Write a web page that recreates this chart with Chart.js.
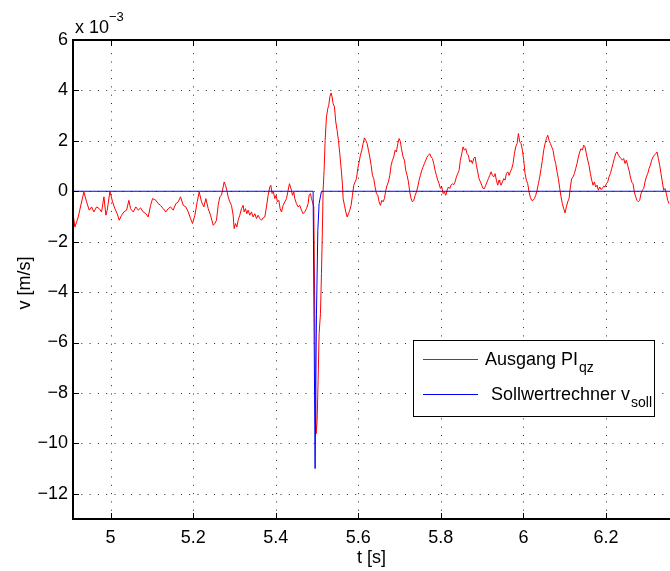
<!DOCTYPE html>
<html>
<head>
<meta charset="utf-8">
<script src="https://cdn.jsdelivr.net/npm/chart.js@4/dist/chart.umd.min.js"></script>
<style>
  html, body { margin: 0; padding: 0; background: #fff; overflow: hidden; }
  canvas { display: block; }
</style>
</head>
<body>
<canvas id="c" width="670" height="571"></canvas>
<script>
// Axis ticks (velocity in units of 1e-3 m/s)
const xTicks = [5, 5.2, 5.4, 5.6, 5.8, 6, 6.2];
const yTicks = [-12, -10, -8, -6, -4, -2, 0, 2, 4, 6];
const xRange = [4.909, 6.355];
const yRange = [-13, 6];

const seriesNames = ['Ausgang PI', 'Sollwertrechner v'];
const seriesSubs = ['qz', 'soll'];

// Controller output PI_qz
const redTime = [
  4.9096, 4.9136, 4.9217, 4.9298, 4.9354, 4.9419, 4.9483, 4.9540, 4.9596, 4.9661,
  4.9726, 4.9782, 4.9839, 4.9887, 4.9919, 4.9984, 5.0048, 5.0105, 5.0161, 5.0210,
  5.0266, 5.0323, 5.0387, 5.0444, 5.0484, 5.0549, 5.0613, 5.0670, 5.0726, 5.0791,
  5.0856, 5.0912, 5.0969, 5.1017, 5.1098, 5.1154, 5.1211, 5.1275, 5.1340, 5.1396,
  5.1453, 5.1517, 5.1582, 5.1638, 5.1695, 5.1760, 5.1824, 5.1881, 5.1937, 5.1985,
  5.2042, 5.2098, 5.2147, 5.2203, 5.2260, 5.2308, 5.2365, 5.2421, 5.2486,
  5.2525, 5.2565, 5.2606, 5.2646, 5.2686, 5.2727, 5.2751, 5.2783, 5.2816, 5.2848,
  5.2888, 5.2929, 5.2969, 5.2993, 5.3025, 5.3058, 5.3090, 5.3130, 5.3171, 5.3211,
  5.3235, 5.3268, 5.3300, 5.3332, 5.3372, 5.3413, 5.3453, 5.3494, 5.3534, 5.3574,
  5.3615, 5.3655, 5.3695, 5.3736, 5.3776, 5.3816, 5.3857, 5.3881, 5.3913, 5.3945,
  5.3978, 5.4010, 5.4042, 5.4075, 5.4107, 5.4139, 5.4180, 5.4220, 5.4261, 5.4301,
  5.4333,
  5.4381, 5.4406, 5.4438, 5.4462, 5.4502, 5.4543, 5.4583, 5.4623, 5.4664, 5.4704,
  5.4745, 5.4785, 5.4809, 5.4841, 5.4866, 5.4890, 5.4922, 5.4954, 5.4979, 5.5003,
  5.5027, 5.5051, 5.5084, 5.5108, 5.5132, 5.5148, 5.5172, 5.5197, 5.5229, 5.5261,
  5.5285, 5.5310, 5.5342, 5.5366, 5.5390, 5.5423, 5.5455, 5.5487, 5.5519,
  5.5552, 5.5592, 5.5617, 5.5633, 5.5665, 5.5697, 5.5730, 5.5762, 5.5794, 5.5826,
  5.5859, 5.5891, 5.5923, 5.5956, 5.5988, 5.6020, 5.6052, 5.6085, 5.6117, 5.6149,
  5.6181, 5.6214, 5.6246, 5.6278, 5.6311, 5.6343, 5.6375, 5.6407, 5.6440, 5.6472,
  5.6504, 5.6537, 5.6569, 5.6601, 5.6633, 5.6666, 5.6698, 5.6730, 5.6763, 5.6795,
  5.6827, 5.6859, 5.6892, 5.6924, 5.6956, 5.6989, 5.7021, 5.7045, 5.7085, 5.7118,
  5.7150, 5.7182, 5.7215, 5.7247, 5.7279, 5.7311, 5.7344, 5.7376, 5.7408, 5.7440,
  5.7473, 5.7505, 5.7537, 5.7570, 5.7602, 5.7634, 5.7666, 5.7699, 5.7731, 5.7763,
  5.7796, 5.7828, 5.7860, 5.7892, 5.7925, 5.7957, 5.7989, 5.8022, 5.8054, 5.8086,
  5.8118, 5.8151, 5.8183, 5.8215, 5.8248, 5.8280, 5.8312, 5.8344, 5.8377, 5.8409,
  5.8441, 5.8473, 5.8506, 5.8538, 5.8570, 5.8603, 5.8635, 5.8667, 5.8699, 5.8732,
  5.8764, 5.8796, 5.8829, 5.8861, 5.8893, 5.8925, 5.8958, 5.8990, 5.9022, 5.9055,
  5.9087, 5.9119, 5.9151, 5.9184, 5.9216, 5.9248, 5.9281, 5.9313, 5.9345, 5.9377,
  5.9410,
  5.9426, 5.9458, 5.9491, 5.9523, 5.9555, 5.9587, 5.9620, 5.9652, 5.9684, 5.9717,
  5.9749, 5.9781, 5.9813, 5.9846, 5.9878, 5.9910, 5.9943, 5.9975, 6.0007, 6.0039,
  6.0072, 6.0104, 6.0136, 6.0169, 6.0201, 6.0233, 6.0265, 6.0298, 6.0330, 6.0362,
  6.0395, 6.0427, 6.0459, 6.0491, 6.0524, 6.0556, 6.0588, 6.0621, 6.0653, 6.0685,
  6.0717, 6.0750, 6.0782, 6.0814, 6.0847, 6.0879, 6.0911, 6.0943, 6.0976, 6.1008,
  6.1040, 6.1072, 6.1105, 6.1137, 6.1169, 6.1202, 6.1234, 6.1266, 6.1298, 6.1331,
  6.1363, 6.1395, 6.1428, 6.1460, 6.1492, 6.1524, 6.1557, 6.1589, 6.1621, 6.1654,
  6.1686, 6.1718, 6.1750, 6.1783, 6.1815, 6.1847, 6.1880, 6.1912, 6.1944, 6.1976,
  6.2009, 6.2041, 6.2073, 6.2106, 6.2138, 6.2170, 6.2202, 6.2235, 6.2267, 6.2299,
  6.2332, 6.2364, 6.2396, 6.2428, 6.2461, 6.2493, 6.2525, 6.2558, 6.2590, 6.2622,
  6.2654, 6.2687, 6.2719, 6.2751, 6.2784, 6.2816, 6.2848, 6.2880, 6.2913, 6.2945,
  6.2977, 6.3010, 6.3042, 6.3074, 6.3106, 6.3139, 6.3171, 6.3203, 6.3236, 6.3268,
  6.3300, 6.3332, 6.3365, 6.3397, 6.3429, 6.3462, 6.3494, 6.3526
];
const redVel = [
  -0.95, -1.42, -1.02, -0.42, -0.03, -0.42, -0.75, -0.62, -0.82, -0.62,
  -0.69, -0.82, -0.22, -0.95, -0.75, 0.00, -0.42, -0.69, -0.89, -1.15,
  -0.95, -0.82, -0.75, -0.36, -0.69, -0.82, -0.62, -0.75, -0.66, -0.82,
  -0.89, -1.02, -0.56, -0.29, -0.36, -0.49, -0.56, -0.69, -0.82, -0.69,
  -0.62, -0.75, -0.49, -0.42, -0.22, -0.56, -0.62, -0.82, -1.08, -1.28,
  -0.95, -0.42, -0.03, -0.42, -0.62, -0.29, -0.69, -0.95, -1.35,
  -1.28, -1.15, -0.56, -0.22, -0.16, 0.17, 0.37, 0.24, 0.04, -0.22,
  -0.42, -0.56, -0.95, -1.48, -1.28, -1.42, -1.15, -0.95, -0.69, -0.56,
  -0.82, -0.69, -0.89, -0.75, -0.95, -0.82, -1.02, -0.89, -1.08, -0.95,
  -1.08, -1.15, -1.06, -1.02, -0.62, -0.16, 0.17, 0.24, -0.09, -0.03,
  -0.29, -0.16, -0.42, -0.36, -0.69, -0.82, -0.56, -0.42, -0.29, 0.04,
  0.30,
  0.04, -0.16, -0.03, -0.29, -0.49, -0.62, -0.56, -0.75, -0.89, -0.82,
  -0.69, -0.49, -0.16, -0.09, -0.29, -0.42, -0.62, -6.18, -9.62, -9.09,
  -7.50, -5.65, -4.85, -3.27, -1.42, 0.04, 0.83, 2.02, 2.95, 3.28,
  3.41, 3.74, 3.90, 3.74, 3.48, 3.35, 2.75, 2.42, 2.02,
  1.49, 0.77, 0.24, -0.29, -0.56, -0.82, -1.02, -0.89, -0.75, -0.56,
  -0.16, 0.24, 0.37, 0.50, 0.90, 1.16, 1.43, 1.63, 1.89, 2.12,
  2.02, 1.89, 1.63, 1.36, 1.03, 0.63, 0.50, 0.17, -0.09, -0.16,
  -0.42, -0.56, -0.36, -0.42, -0.29, 0.04, 0.24, 0.37, 0.63, 1.03,
  1.23, 1.36, 1.63, 1.56, 1.89, 2.09, 1.96, 1.69, 1.36, 1.23,
  0.83, 0.63, 0.37, -0.03, -0.29, -0.42, -0.36, -0.16, -0.03, 0.17,
  0.44, 0.63, 0.83, 0.97, 1.10, 1.23, 1.36, 1.43, 1.49, 1.36,
  1.30, 1.10, 0.83, 0.63, 0.44, 0.30, 0.11, 0.17, -0.09, -0.03,
  -0.16, 0.04, 0.17, 0.11, 0.24, 0.30, 0.26, 0.37, 0.57, 0.70,
  0.83, 1.23, 1.49, 1.76, 1.63, 1.69, 1.49, 1.43, 1.16, 1.23,
  1.10, 1.30, 1.36, 1.03, 0.77, 0.50, 0.37, 0.24, 0.11, 0.11,
  0.24, 0.37, 0.50, 0.63, 0.77, 0.63, 0.57, 0.70, 0.44, 0.24,
  0.44,
  0.37, 0.24, 0.37, 0.50, 0.44, 0.70, 0.77, 0.63, 0.77, 0.90,
  1.10, 1.49, 1.76, 1.89, 2.29, 1.96, 1.89, 1.63, 1.23, 0.70,
  0.44, 0.30, -0.03, -0.25, -0.36, -0.36, -0.29, -0.16, 0.04, 0.30,
  0.57, 0.90, 1.23, 1.63, 1.89, 2.09, 2.22, 2.02, 1.89, 1.76,
  1.63, 1.30, 1.10, 0.77, 0.50, 0.11, -0.22, -0.49, -0.69, -0.86,
  -0.62, -0.42, -0.29, 0.17, 0.50, 0.57, 0.70, 0.90, 1.10, 1.36,
  1.56, 1.69, 1.63, 1.83, 1.76, 1.49, 1.23, 1.03, 0.70, 0.44,
  0.24, 0.37, 0.17, 0.24, 0.04, 0.17, 0.07, 0.11, 0.20, 0.17,
  0.30, 0.37, 0.57, 0.70, 0.90, 1.10, 1.30, 1.49, 1.56, 1.43,
  1.36, 1.30, 1.23, 1.30, 1.10, 1.23, 1.03, 0.83, 0.57, 0.37,
  0.30, -0.03, -0.22, -0.36, -0.42, -0.36, -0.09, 0.04, 0.11, 0.37,
  0.57, 0.70, 0.90, 1.03, 1.23, 1.36, 1.43, 1.49, 1.56, 1.30,
  1.03, 0.70, 0.37, 0.04, 0.11, -0.09, -0.36, -0.49
];

// Setpoint generator v_soll
const blueTime = [4.909, 5.4906, 5.4954, 5.4987, 5.5020, 5.5051, 5.5108, 6.355];
const blueVel  = [0, 0, -11.0, -4.9, -1.55, -0.49, 0, 0];

const toPoints = (ts, vs) => ts.map((t, i) => ({ x: t, y: vs[i] }));

const FONT = "'Liberation Sans', Arial, Helvetica, sans-serif";
const fmt = v => {
  const r = Math.round(v * 10) / 10;
  return r < 0 ? '\u2212' + Math.abs(r) : String(r);
};

const frame = {
  id: 'frame',
  beforeDatasetsDraw(chart) {
    const { ctx, chartArea: a, scales: { x, y } } = chart;
    ctx.save();
    ctx.strokeStyle = 'rgba(0,0,0,0.85)';
    ctx.lineWidth = 1;
    ctx.setLineDash([1, 7.3]);
    xTicks.forEach(t => {
      const px = Math.round(x.getPixelForValue(t)) + 0.5;
      ctx.beginPath(); ctx.moveTo(px, a.bottom); ctx.lineTo(px, a.top); ctx.stroke();
    });
    yTicks.forEach(v => {
      const py = Math.round(y.getPixelForValue(v)) + 0.5;
      ctx.beginPath(); ctx.moveTo(a.left, py); ctx.lineTo(a.right, py); ctx.stroke();
    });
    ctx.restore();
  },
  afterDatasetsDraw(chart) {
    const { ctx, chartArea: a, scales: { x, y } } = chart;
    ctx.save();
    // axes box
    ctx.strokeStyle = '#000';
    ctx.lineWidth = 2;
    ctx.beginPath();
    ctx.moveTo(a.left, a.top); ctx.lineTo(a.right + 2, a.top);
    ctx.moveTo(a.left, a.top - 1); ctx.lineTo(a.left, a.bottom + 1);
    ctx.moveTo(a.left, a.bottom); ctx.lineTo(a.right + 2, a.bottom);
    ctx.stroke();
    // inward tick marks
    ctx.lineWidth = 1;
    const tl = 6;
    ctx.beginPath();
    xTicks.forEach(t => {
      const px = Math.round(x.getPixelForValue(t)) + 0.5;
      ctx.moveTo(px, a.bottom); ctx.lineTo(px, a.bottom - tl);
      ctx.moveTo(px, a.top); ctx.lineTo(px, a.top + tl);
    });
    yTicks.forEach(v => {
      const py = Math.round(y.getPixelForValue(v)) + 0.5;
      ctx.moveTo(a.left, py); ctx.lineTo(a.left + tl, py);
    });
    ctx.stroke();

    // exponent label
    ctx.fillStyle = '#000';
    ctx.textBaseline = 'alphabetic';
    ctx.textAlign = 'left';
    ctx.font = '18px ' + FONT;
    ctx.fillText('x 10', 75, 33);
    ctx.font = '13px ' + FONT;
    ctx.fillText('\u22123', 109, 21);

    // axis titles
    ctx.font = '18px ' + FONT;
    ctx.textAlign = 'center';
    ctx.textBaseline = 'middle';
    ctx.fillText('t [s]', (a.left + a.right) / 2, 558);
    ctx.save();
    ctx.translate(25, 283);
    ctx.rotate(-Math.PI / 2);
    ctx.fillText('v [m/s]', 0, 0);
    ctx.restore();

    // legend
    const bx = 413.5, by = 340.5, bw = 241, bh = 76;
    ctx.fillStyle = '#fff';
    ctx.fillRect(bx, by, bw, bh);
    ctx.strokeStyle = '#000';
    ctx.lineWidth = 1;
    ctx.strokeRect(bx, by, bw, bh);
    const colors = ['#ff0000', '#0000ff'];
    const rows = [359.5, 394.5];
    const textX = [485, 491];
    rows.forEach((ry, i) => {
      ctx.strokeStyle = colors[i];
      ctx.beginPath(); ctx.moveTo(423, ry); ctx.lineTo(478, ry); ctx.stroke();
      ctx.fillStyle = '#000';
      ctx.textAlign = 'left';
      ctx.textBaseline = 'alphabetic';
      ctx.font = '18px ' + FONT;
      ctx.fillText(seriesNames[i], textX[i], ry + 5);
      const w = ctx.measureText(seriesNames[i]).width;
      ctx.font = '14px ' + FONT;
      ctx.fillText(seriesSubs[i], textX[i] + w + 1, ry + 12);
    });
    ctx.restore();
  }
};

new Chart(document.getElementById('c'), {
  type: 'line',
  data: {
    datasets: [
      {
        label: seriesNames[0] + seriesSubs[0],
        data: toPoints(redTime, redVel),
        borderColor: '#ff0000',
        borderWidth: 1,
        pointRadius: 0,
        tension: 0,
        fill: false,
        order: 1
      },
      {
        label: seriesNames[1] + seriesSubs[1],
        data: toPoints(blueTime, blueVel),
        borderColor: '#0000ff',
        borderWidth: 1,
        pointRadius: 0,
        tension: 0,
        fill: false,
        order: 0
      }
    ]
  },
  options: {
    responsive: false,
    animation: false,
    devicePixelRatio: 1,
    layout: { padding: { left: 0, right: 0, top: 40, bottom: 0 } },
    plugins: { legend: { display: false }, tooltip: { enabled: false } },
    scales: {
      x: {
        type: 'linear',
        min: xRange[0],
        max: xRange[1],
        afterBuildTicks: s => { s.ticks = xTicks.map(v => ({ value: v })); },
        afterFit: s => { s.height = 52; },
        grid: { display: false, drawTicks: false },
        border: { display: false },
        ticks: {
          color: '#000', padding: 8, maxRotation: 0, autoSkip: false,
          font: { family: FONT, size: 18 },
          callback: v => fmt(v)
        }
      },
      y: {
        type: 'linear',
        min: yRange[0],
        max: yRange[1],
        afterBuildTicks: s => { s.ticks = yTicks.map(v => ({ value: v })); },
        afterFit: s => { s.width = 73; },
        grid: { display: false, drawTicks: false },
        border: { display: false },
        ticks: {
          color: '#000', padding: 5, autoSkip: false,
          font: { family: FONT, size: 18 },
          callback: v => fmt(v)
        }
      }
    }
  },
  plugins: [frame]
});
</script>
</body>
</html>
